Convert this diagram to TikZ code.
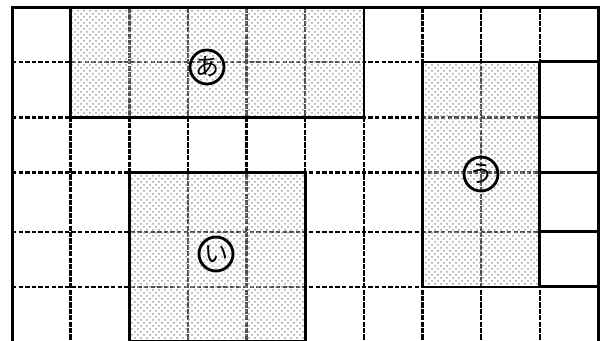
\documentclass[tikz,border=0pt]{standalone}
\usepackage{fontspec}
\newfontfamily\cjk{Noto Sans CJK JP}
\usetikzlibrary{patterns}

\begin{document}
\begin{tikzpicture}[x=0.5pt,y=-0.5pt,
  hline/.style={line width=1.2pt,dash pattern=on 2.2pt off 1.1pt},
  vline/.style={line width=1.2pt,dash pattern=on 2.6pt off 0.6pt},
  frame/.style={line width=1.5pt},
  area/.style={line width=1.4pt},
  lbl/.style={circle,draw,line width=1.4pt,minimum size=17pt,inner sep=0pt,font=\cjk\fontsize{12pt}{12pt}\selectfont}]
  \useasboundingbox (0,0) rectangle (600,341);
  % grid
  \foreach \k in {1,...,9}
    \draw[vline] (12+58.65*\k,8) -- (12+58.65*\k,341);
  \foreach \y in {62,117.5,172.5,232,287} {
    \draw[hline] (12,\y) -- (540,\y);
    \draw[frame] (540,\y) -- (598.5,\y);
  }
  \draw[frame] (12,341) -- (12,8) -- (598.5,8) -- (598.5,341);
  % shaded areas
  \foreach \a/\b/\c/\d in {70.6/8/363.9/117.5, 129.3/172.5/305.2/341, 422.5/62/539.8/287} {
    \fill[white,fill opacity=0.3] (\a,\b) rectangle (\c,\d);
    \fill[pattern=crosshatch dots,pattern color=gray!75] (\a,\b) rectangle (\c,\d);
    \draw[area] (\a,\b) rectangle (\c,\d);
  }
  \node[lbl] (a) at (207,67) {あ};
  \node[lbl] (i) at (216,254) {い};
  \node[lbl] (u) at (481,174) {う};
\end{tikzpicture}
\end{document}
